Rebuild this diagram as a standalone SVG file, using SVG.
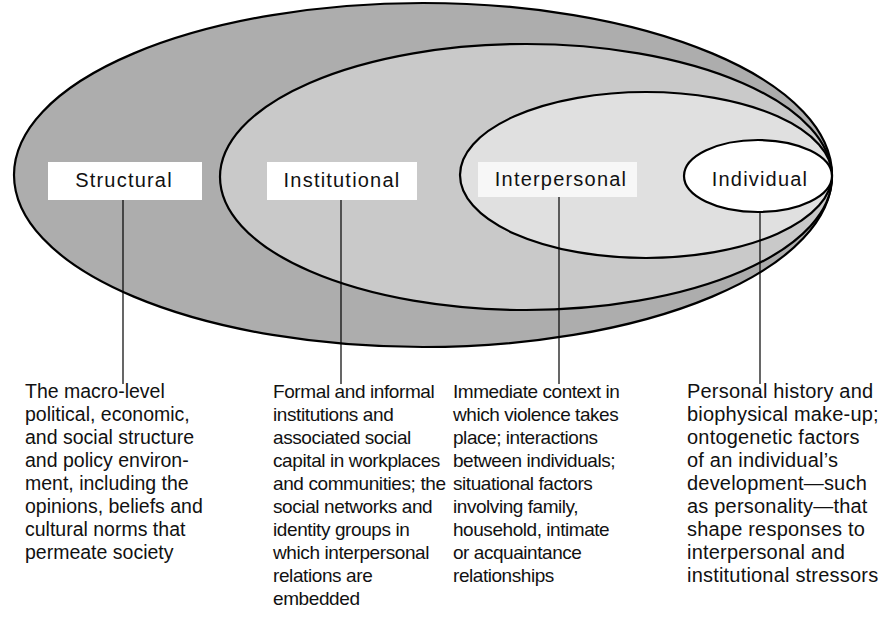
<svg xmlns="http://www.w3.org/2000/svg" width="885" height="631" viewBox="0 0 885 631">
<style>
.ring{stroke:#000;stroke-width:2.2}
.lbl{font-family:"Liberation Sans",Arial,sans-serif;font-size:20px;letter-spacing:1.2px;fill:#111;text-anchor:middle}
.desc{font-family:"Liberation Sans",Arial,sans-serif;font-size:19.5px;fill:#111}
.c1{letter-spacing:0px}
.c2{font-size:19px;letter-spacing:-0.4px}
.c3{font-size:19px;letter-spacing:-0.45px}
.c4{font-size:20px;letter-spacing:0.2px}
.conn{stroke:#000;stroke-width:1.2;fill:none}
</style>
<rect width="885" height="631" fill="#fff"/>
<g id="structural">
<ellipse class="ring" cx="423" cy="175" rx="409" ry="172" fill="#adadad"/>
<rect x="48" y="162" width="154" height="38" fill="#fff"/>
<text class="lbl" x="124" y="187">Structural</text>
</g>
<g id="institutional">
<ellipse class="ring" cx="526" cy="177" rx="306" ry="133" fill="#c9c9c9"/>
<rect x="267" y="162" width="150" height="38" fill="#fff"/>
<text class="lbl" x="342" y="187">Institutional</text>
</g>
<g id="interpersonal">
<ellipse class="ring" cx="646" cy="175" rx="186" ry="83" fill="#e0e0e0"/>
<rect x="478" y="162" width="159" height="35" fill="#fff" opacity="0.75"/>
<text class="lbl" x="561" y="186">Interpersonal</text>
</g>
<g id="individual">
<ellipse class="ring" cx="758" cy="176" rx="74" ry="36" fill="#fff"/>
<text class="lbl" x="760" y="186">Individual</text>
</g>
<g id="connectors">
<line class="conn" x1="123" y1="200" x2="123" y2="384"/>
<line class="conn" x1="341" y1="200" x2="341" y2="384" stroke-width="0.9"/>
<line class="conn" x1="559" y1="197" x2="559" y2="384"/>
<line class="conn" x1="760" y1="212" x2="760" y2="384"/>
</g>
<g id="desc-structural" class="desc c1">
<text x="25" y="398">The macro-level</text>
<text x="25" y="421">political, economic,</text>
<text x="25" y="444">and social structure</text>
<text x="25" y="467">and policy environ-</text>
<text x="25" y="490">ment, including the</text>
<text x="25" y="513">opinions, beliefs and</text>
<text x="25" y="536">cultural norms that</text>
<text x="25" y="559">permeate society</text>
</g>
<g id="desc-institutional" class="desc c2">
<text x="273" y="398">Formal and informal</text>
<text x="273" y="421">institutions and</text>
<text x="273" y="444">associated social</text>
<text x="273" y="467">capital in workplaces</text>
<text x="273" y="490">and communities; the</text>
<text x="273" y="513">social networks and</text>
<text x="273" y="536">identity groups in</text>
<text x="273" y="559">which interpersonal</text>
<text x="273" y="582">relations are</text>
<text x="273" y="605">embedded</text>
</g>
<g id="desc-interpersonal" class="desc c3">
<text x="453" y="398">Immediate context in</text>
<text x="453" y="421">which violence takes</text>
<text x="453" y="444">place; interactions</text>
<text x="453" y="467">between individuals;</text>
<text x="453" y="490">situational factors</text>
<text x="453" y="513">involving family,</text>
<text x="453" y="536">household, intimate</text>
<text x="453" y="559">or acquaintance</text>
<text x="453" y="582">relationships</text>
</g>
<g id="desc-individual" class="desc c4">
<text x="687" y="398">Personal history and</text>
<text x="687" y="421">biophysical make-up;</text>
<text x="687" y="444">ontogenetic factors</text>
<text x="687" y="467">of an individual’s</text>
<text x="687" y="490">development—such</text>
<text x="687" y="513">as personality—that</text>
<text x="687" y="536">shape responses to</text>
<text x="687" y="559">interpersonal and</text>
<text x="687" y="582">institutional stressors</text>
</g>
</svg>
